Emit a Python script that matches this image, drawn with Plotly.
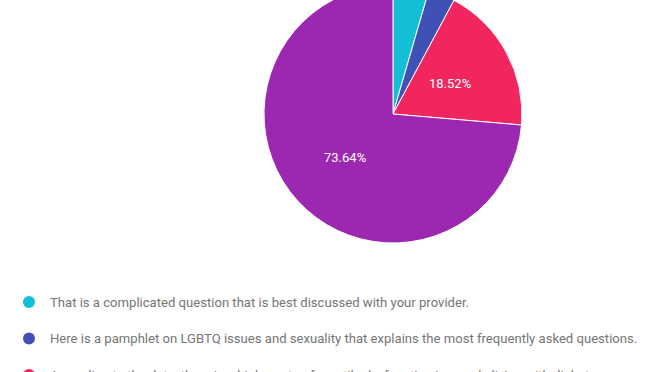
import math
import plotly.graph_objects as go

labels = [
    "That is a complicated question that is best discussed with your provider.",
    "Here is a pamphlet on LGBTQ issues and sexuality that explains the most frequently asked questions.",
    "According to the data, there is a higher rate of erectile dysfunction in people living with diabetes.",
    "(fourth response, not visible)",
]
values = [4.49, 3.35, 18.52, 73.64]
colors = ["#12BFD6", "#3F51B5", "#F2265E", "#9C27B0"]

W, H = 645, 400
SHIFT = 15  # page is scrolled so that the pie top is cut, as in the reference

cx, cy, r = 393, 114 + SHIFT, 129

fig = go.Figure()
fig.add_trace(go.Pie(
    labels=labels,
    values=values,
    sort=False,
    direction="clockwise",
    rotation=0,
    marker=dict(colors=colors, line=dict(color="white", width=1)),
    textinfo="none",
    showlegend=False,
    domain=dict(x=[(cx - r) / W, (cx + r) / W], y=[1 - (cy + r) / H, 1 - (cy - r) / H]),
    hoverinfo="label+percent",
))

# percentage labels (Google-Charts style: at half radius, hidden for small slices)
total = sum(values)
cum = 0.0
for v in values:
    mid = (cum + v / 2) / total * 2 * math.pi
    cum += v
    if v / total < 0.05:
        continue
    px = cx + 0.5 * r * math.sin(mid)
    py = cy - 0.5 * r * math.cos(mid)
    fig.add_annotation(text="%.2f%%" % (v / total * 100), xref="paper", yref="paper",
                       x=px / W, y=1 - py / H, xanchor="center", yanchor="middle",
                       showarrow=False,
                       font=dict(family="Roboto", size=13, color="white"))

row0 = 302 + SHIFT
gap = 36.5
for i, (lab, col) in enumerate(zip(labels, colors)):
    yy = 1 - (row0 + i * gap) / H
    fig.add_shape(type="circle", xref="paper", yref="paper",
                  xsizemode="pixel", ysizemode="pixel",
                  xanchor=29 / W, yanchor=yy,
                  x0=-6, x1=6, y0=-6, y1=6,
                  fillcolor=col, line=dict(width=0))
    fig.add_annotation(text=lab, xref="paper", yref="paper",
                       x=48 / W, y=yy, xanchor="left", yanchor="middle",
                       showarrow=False,
                       font=dict(family="Roboto", size=13.1, color="#757575"))

fig.update_layout(
    width=W, height=H,
    margin=dict(l=0, r=0, t=0, b=0),
    paper_bgcolor="white", plot_bgcolor="white",
)

fig.write_html(
    "out.html",
    config={"displayModeBar": False},
    post_script="document.body.style.margin='0';document.body.style.overflow='hidden';"
                "document.getElementById('{plot_id}').style.marginTop='-%dpx';" % SHIFT,
)
